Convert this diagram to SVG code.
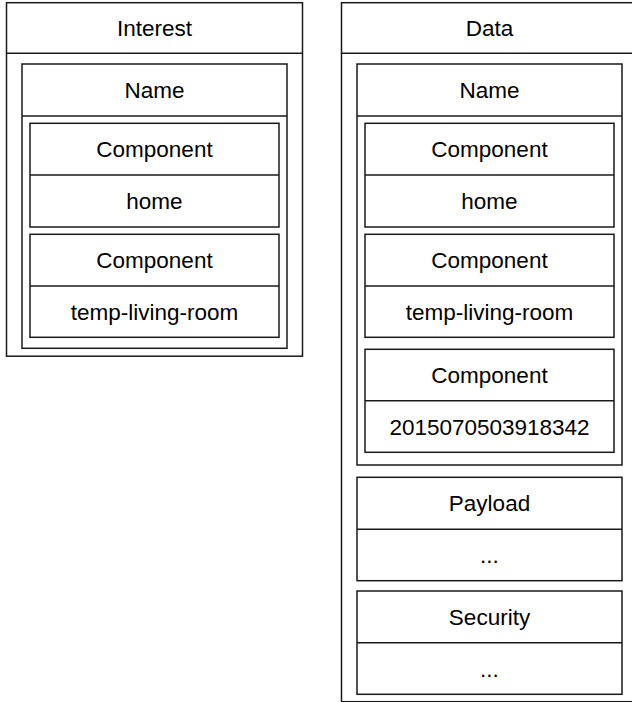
<svg xmlns="http://www.w3.org/2000/svg" width="632" height="702" viewBox="0 0 632 702">
  <style>
    .box { fill: #ffffff; stroke: #1a1a1a; stroke-width: 1.5; }
    .div { stroke: #1a1a1a; stroke-width: 1.5; fill: none; }
    .lbl { font-family: "Liberation Sans", Arial, Helvetica, sans-serif; font-size: 22.5px; fill: #000000; text-anchor: middle; }
  </style>
  <rect width="632" height="702" fill="#ffffff"/>

  <!-- Interest packet -->
  <g id="interest">
    <rect class="box" x="6.5" y="2.7" width="296" height="353.5"/>
    <line class="div" x1="6.5" y1="53.3" x2="302.5" y2="53.3"/>
    <text class="lbl" x="154.5" y="36">Interest</text>
  </g>
  <g id="interest-name">
    <rect class="box" x="22" y="64" width="265" height="284.3"/>
    <line class="div" x1="22" y1="116" x2="287" y2="116"/>
    <text class="lbl" x="154.5" y="98">Name</text>
  </g>
  <g id="interest-component-1">
    <rect class="box" x="30" y="123.3" width="249" height="103.7"/>
    <line class="div" x1="30" y1="175" x2="279" y2="175"/>
    <text class="lbl" x="154.5" y="157">Component</text>
    <text class="lbl" x="154.5" y="209">home</text>
  </g>
  <g id="interest-component-2">
    <rect class="box" x="30" y="234.3" width="249" height="103"/>
    <line class="div" x1="30" y1="286" x2="279" y2="286"/>
    <text class="lbl" x="154.5" y="268">Component</text>
    <text class="lbl" x="154.5" y="320">temp-living-room</text>
  </g>

  <!-- Data packet -->
  <g id="data">
    <rect class="box" x="341.5" y="2.7" width="296" height="699"/>
    <line class="div" x1="341.5" y1="53.3" x2="637.5" y2="53.3"/>
    <text class="lbl" x="489.5" y="36">Data</text>
  </g>
  <g id="data-name">
    <rect class="box" x="357" y="64" width="265" height="401"/>
    <line class="div" x1="357" y1="116" x2="622" y2="116"/>
    <text class="lbl" x="489.5" y="98">Name</text>
  </g>
  <g id="data-component-1">
    <rect class="box" x="365" y="123.3" width="249" height="103.7"/>
    <line class="div" x1="365" y1="175" x2="614" y2="175"/>
    <text class="lbl" x="489.5" y="157">Component</text>
    <text class="lbl" x="489.5" y="209">home</text>
  </g>
  <g id="data-component-2">
    <rect class="box" x="365" y="234.3" width="249" height="103"/>
    <line class="div" x1="365" y1="286" x2="614" y2="286"/>
    <text class="lbl" x="489.5" y="268">Component</text>
    <text class="lbl" x="489.5" y="320">temp-living-room</text>
  </g>
  <g id="data-component-3">
    <rect class="box" x="365" y="349.3" width="249" height="103"/>
    <line class="div" x1="365" y1="400.7" x2="614" y2="400.7"/>
    <text class="lbl" x="489.5" y="383">Component</text>
    <text class="lbl" x="489.5" y="434.5">2015070503918342</text>
  </g>
  <g id="data-payload">
    <rect class="box" x="357" y="477.3" width="265" height="103.4"/>
    <line class="div" x1="357" y1="529.3" x2="622" y2="529.3"/>
    <text class="lbl" x="489.5" y="511.3">Payload</text>
    <text class="lbl" x="489.5" y="563">...</text>
  </g>
  <g id="data-security">
    <rect class="box" x="357" y="591" width="265" height="103.3"/>
    <line class="div" x1="357" y1="642.7" x2="622" y2="642.7"/>
    <text class="lbl" x="489.5" y="625">Security</text>
    <text class="lbl" x="489.5" y="676.5">...</text>
  </g>

  <g id="connectors"/>
</svg>
